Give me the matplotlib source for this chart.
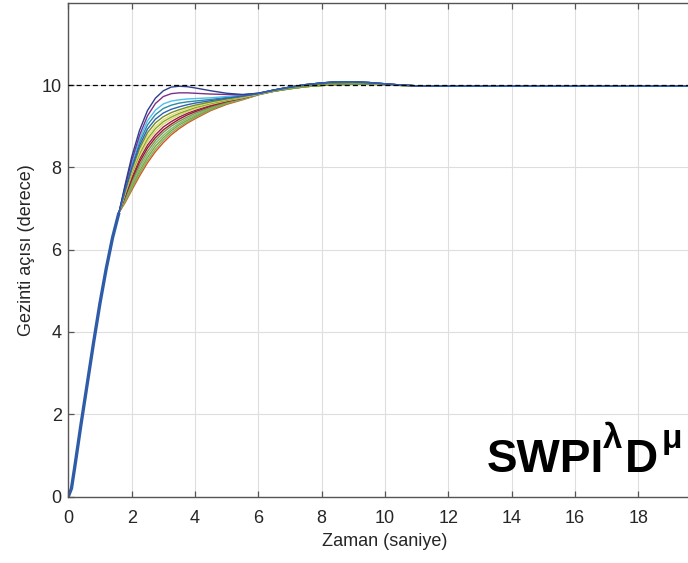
import matplotlib
matplotlib.use('Agg')
import matplotlib.pyplot as plt

plt.rcParams['font.family'] = ['Liberation Sans', 'DejaVu Sans']

# ---------------- data ----------------
# common initial rise (all responses coincide here)
rise_t = [0.0, 0.1, 0.2, 0.4, 0.6, 0.8, 1.0, 1.2, 1.4, 1.6]
rise_v = [0.0, 0.2, 0.7, 1.75, 2.75, 3.75, 4.7, 5.55, 6.3, 6.9]

# knee region, where the responses differ
knee_t = [1.8, 2.0, 2.25, 2.5, 2.75, 3.0, 3.25, 3.5, 3.75, 4.0, 4.5, 5.0, 5.5, 6.0]
c_navy   = [7.60, 8.25, 8.90, 9.38, 9.68, 9.86, 9.95, 9.97, 9.96, 9.93, 9.86, 9.80, 9.77, 9.80]
c_purple = [7.55, 8.16, 8.78, 9.25, 9.55, 9.72, 9.79, 9.81, 9.81, 9.80, 9.78, 9.77, 9.76, 9.80]
c_cyan   = [7.52, 8.10, 8.69, 9.13, 9.39, 9.54, 9.61, 9.64, 9.66, 9.67, 9.69, 9.72, 9.75, 9.80]
c_teal   = [7.49, 8.04, 8.61, 9.03, 9.28, 9.43, 9.51, 9.56, 9.59, 9.61, 9.65, 9.70, 9.74, 9.79]
c_blue   = [7.46, 7.98, 8.53, 8.93, 9.17, 9.32, 9.41, 9.47, 9.52, 9.56, 9.62, 9.68, 9.73, 9.79]
c_olive  = [7.43, 7.93, 8.46, 8.84, 9.08, 9.23, 9.33, 9.40, 9.46, 9.51, 9.59, 9.66, 9.72, 9.79]
c_yel1   = [7.41, 7.89, 8.39, 8.76, 9.00, 9.16, 9.27, 9.35, 9.42, 9.48, 9.57, 9.65, 9.71, 9.78]
c_grn1   = [7.39, 7.85, 8.33, 8.69, 8.94, 9.11, 9.22, 9.31, 9.38, 9.45, 9.55, 9.63, 9.70, 9.78]
c_yel2   = [7.37, 7.81, 8.27, 8.62, 8.87, 9.05, 9.17, 9.27, 9.35, 9.42, 9.53, 9.62, 9.69, 9.78]
c_mar1   = [7.34, 7.75, 8.20, 8.54, 8.79, 8.98, 9.11, 9.22, 9.31, 9.38, 9.51, 9.61, 9.69, 9.78]
c_mar2   = [7.31, 7.70, 8.13, 8.47, 8.72, 8.91, 9.05, 9.17, 9.27, 9.35, 9.49, 9.60, 9.68, 9.78]
c_grn2   = [7.27, 7.64, 8.05, 8.39, 8.65, 8.85, 9.00, 9.12, 9.22, 9.31, 9.46, 9.58, 9.67, 9.77]
c_grn3   = [7.24, 7.58, 7.98, 8.31, 8.58, 8.78, 8.94, 9.07, 9.18, 9.27, 9.44, 9.57, 9.66, 9.77]
c_grn4   = [7.21, 7.53, 7.91, 8.24, 8.51, 8.72, 8.89, 9.03, 9.14, 9.24, 9.42, 9.56, 9.66, 9.77]
c_grn5   = [7.18, 7.48, 7.85, 8.17, 8.44, 8.66, 8.84, 8.98, 9.10, 9.21, 9.40, 9.55, 9.65, 9.77]
c_orng   = [7.15, 7.44, 7.79, 8.11, 8.38, 8.60, 8.79, 8.94, 9.07, 9.18, 9.38, 9.53, 9.64, 9.76]

# settling tail (small overshoot, then steady state)
tail_t   = [6.5, 7.0, 7.5, 8.0, 8.5, 9.0, 9.5, 10.0, 10.5, 11.0, 12.0, 20.0]
tail_hi  = [9.88, 9.95, 10.01, 10.05, 10.08, 10.08, 10.06, 10.03, 10.00, 9.98, 9.97, 9.97]
tail_mid = [9.86, 9.93, 9.98, 10.02, 10.04, 10.05, 10.04, 10.02, 10.00, 9.98, 9.97, 9.97]
tail_lo  = [9.85, 9.91, 9.96, 9.99, 10.01, 10.02, 10.02, 10.01, 9.99, 9.98, 9.97, 9.97]

reference_value = 10.0

x_ticks = [0, 2, 4, 6, 8, 10, 12, 14, 16, 18]
y_ticks = [0, 2, 4, 6, 8, 10]

# ---------------- figure ----------------
fig = plt.figure(figsize=(6.88, 5.63), dpi=100)
W, H = 688.0, 563.0
ax = fig.add_axes([68.3 / W, 1 - 496.6 / H, (701.7 - 68.3) / W, (496.6 - 2.7) / H])

curves = [
    (c_orng,   '#D95319', tail_lo),
    (c_grn5,   '#86A96A', tail_lo),
    (c_grn4,   '#77AC30', tail_lo),
    (c_grn3,   '#8DB07A', tail_lo),
    (c_grn2,   '#6E9E4A', tail_lo),
    (c_mar2,   '#A2142F', tail_mid),
    (c_mar1,   '#8E2450', tail_mid),
    (c_yel2,   '#E6D36A', tail_mid),
    (c_grn1,   '#77AC30', tail_mid),
    (c_yel1,   '#EDD97A', tail_mid),
    (c_olive,  '#6F8F2A', tail_mid),
    (c_teal,   '#2E8C9E', tail_hi),
    (c_cyan,   '#4DBEEE', tail_hi),
    (c_purple, '#7E2F8E', tail_hi),
    (c_navy,   '#2F3F8C', tail_hi),
    (c_blue,   '#2F62B0', tail_hi),
]

for vals, col, tail in curves:
    ax.plot(rise_t + knee_t + tail_t, rise_v + vals + tail, color=col, lw=1.0)

# the overlapping bundle of the shared rise appears as a thick blue stroke
ax.plot(rise_t, rise_v, color='#2F5CA8', lw=2.4, solid_capstyle='butt')

ax.axhline(reference_value, color='black', lw=0.9, ls=(0, (4, 2.5)), zorder=5)

ax.set_xlim(0, 20)
ax.set_ylim(0, 12)
ax.set_xticks(x_ticks)
ax.set_yticks(y_ticks)
ax.grid(True, color='#dedede', lw=0.8)
ax.set_axisbelow(True)

for s in ax.spines.values():
    s.set_color('#555555')
    s.set_linewidth(1.0)

ax.tick_params(axis='both', direction='in', length=4.5, width=0.9, color='#555555',
               labelcolor='#262626', labelsize=13)
ax.tick_params(axis='x', top=True, pad=10)
ax.tick_params(axis='y', right=True, pad=4.8)

ax.set_xlabel('Zaman (saniye)', fontsize=13, color='#262626', labelpad=4)
ax.set_ylabel('Gezinti açısı (derece)', fontsize=13, color='#262626', labelpad=5)

# SWPI^λ D^μ label
swpi = ax.text(13.21, 0.60, 'SWPI', fontsize=33, fontweight='bold',
               va='baseline', ha='left', color='black')
lam = ax.annotate('λ', xy=(1, 0.60), xycoords=(swpi, 'data'), xytext=(-0.8, 17.5),
                  textcoords='offset points', fontsize=25, fontweight='bold',
                  va='baseline', ha='left', color='black')
dd = ax.annotate('D', xy=(1, 0.60), xycoords=(lam, 'data'), xytext=(2.2, 0),
                 textcoords='offset points', fontsize=33, fontweight='bold',
                 va='baseline', ha='left', color='black')
mu = ax.annotate('μ', xy=(1, 0.60), xycoords=(dd, 'data'), xytext=(2.0, 17.0),
                 textcoords='offset points', fontsize=24, fontweight='bold',
                 va='baseline', ha='left', color='black')

fig.savefig('out.png', dpi=100)
